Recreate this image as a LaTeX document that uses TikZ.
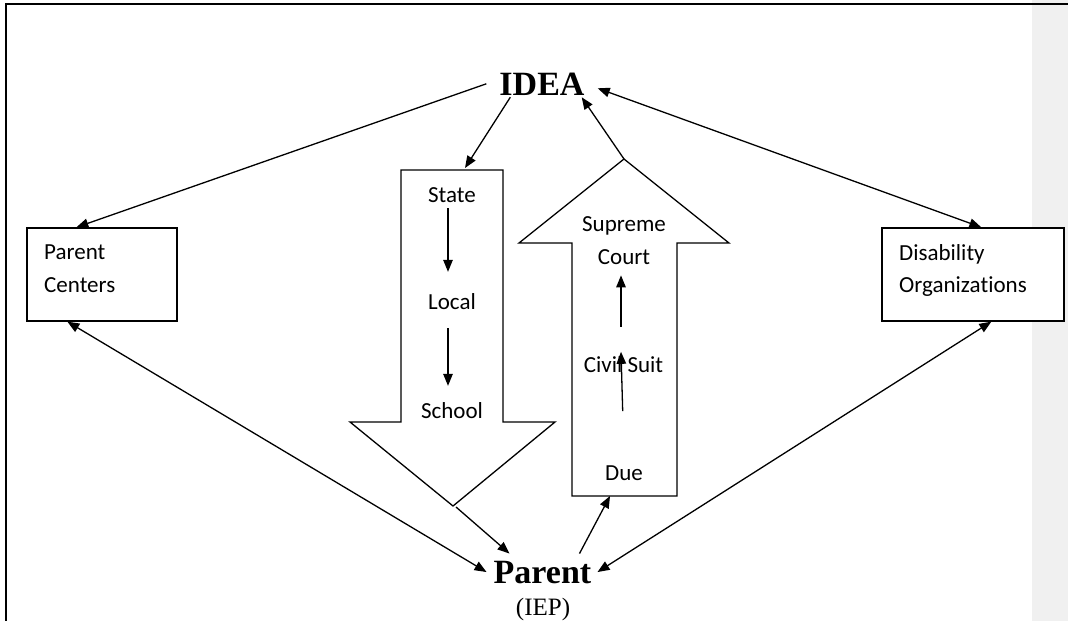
\documentclass[tikz,border=0pt]{standalone}
\usepackage{fontspec}
\setmainfont{Liberation Serif}
\newfontfamily\calfont[RawFeature={-liga;-clig;-dlig;-calt;-hlig}]{Carlito}
\usetikzlibrary{arrows.meta}
\begin{document}
\begin{tikzpicture}[x=1pt,y=-1pt,
  ln/.style={line width=1.3pt,black},
  arr/.style={ln,-{Triangle[length=12pt,width=9.5pt]}},
  darr/.style={ln,{Triangle[length=12pt,width=9.5pt]}-{Triangle[length=12pt,width=9.5pt]}},
  lbl/.style={font=\calfont\fontsize{23}{28}\selectfont,inner sep=0pt},
  big/.style={font=\bfseries\fontsize{34}{40}\selectfont,inner sep=0pt,anchor=base},
  boxst/.style={draw,ln,fill=white,minimum height=93pt,inner sep=0pt}]
\useasboundingbox (0,0) rectangle (1068,621);
% right grey margin
\fill[fill={rgb,255:red,240;green,240;blue,240}] (1032,0) rectangle (1068,621);
% page border
\draw[ln] (5,4) -- (1068,4);
\draw[ln] (6,4) -- (6,621);

% main labels
\node[big] (idea) at (542,95) {IDEA};
\node[big] (parent) at (542.5,583) {Parent};
\node[inner sep=0pt,anchor=base,font=\fontsize{25}{30}\selectfont] (iep) at (543,615) {(IEP)};

% side boxes
\node[boxst,minimum width=150pt] (pc) at (102,274.5) {};
\node[lbl,anchor=base west] (pc1) at (44,259) {Parent};
\node[lbl,anchor=base west] (pc2) at (44,292) {Centers};
\node[boxst,minimum width=182pt] (do) at (973,274.5) {};
\node[lbl,anchor=base west] (do1) at (899,260) {Disability};
\node[lbl,anchor=base west] (do2) at (899,292) {Organiza\kern0pt tions};

% down block arrow
\draw[ln,fill=white] (401,170) -- (503,170) -- (503,422) -- (555,422) -- (453,506) -- (350,422) -- (401,422) -- cycle;
\coordinate (dn) at (452,170);
\coordinate (dtip) at (453,506);
% up block arrow
\draw[ln,fill=white] (572,496) -- (572,243) -- (519,243) -- (624,159) -- (729,243) -- (677,243) -- (677,496) -- cycle;
\coordinate (upt) at (624,159);
\coordinate (ub) at (624,496);

% texts in block arrows
\node[lbl,anchor=base] (state) at (452,202) {State};
\node[lbl,anchor=base] (local) at (452,309) {Local};
\node[lbl,anchor=base] (school) at (452,418) {School};
\node[lbl,anchor=base] (sup) at (624,231) {Supreme};
\node[lbl,anchor=base] (court) at (624,264) {Court};
\node[lbl,anchor=base] (civil) at (623.5,372) {Civil Suit};
\node[lbl,anchor=base] (due) at (624,480) {Due};

% inner arrows
\draw[arr] ([xshift=-4pt,yshift=-6pt]state.south) -- ([xshift=-4pt,yshift=21pt]local.north);
\draw[arr] ([xshift=-4pt,yshift=-19pt]local.south) -- ([xshift=-4pt,yshift=16pt]school.north);
\draw[arr] ([xshift=-2.5pt,yshift=29pt]civil.north) -- ([xshift=-3pt,yshift=-11pt]court.south);
\draw[arr] ([xshift=-1.3pt,yshift=54pt]due.north) -- ([xshift=-2.5pt,yshift=4pt]civil.north);

% outer connectors
\draw[arr] ([xshift=-13pt]idea.west) -- ([xshift=50pt]pc.north west);
\draw[arr] ([xshift=11pt,yshift=-2pt]idea.south west) -- ([xshift=13pt,yshift=2pt]dn);
\draw[arr] (upt) -- ([xshift=-3pt,yshift=-2pt]idea.south east);
\draw[darr] ([xshift=13pt,yshift=-4.5pt]idea.east) -- ([xshift=100pt]do.north west);
\draw[darr] ([xshift=41pt]pc.south west) -- ([xshift=-7pt]parent.west);
\draw[arr] ([xshift=3pt,yshift=-1pt]dtip) -- ([xshift=16pt,yshift=7pt]parent.north west);
\draw[arr] ([xshift=-12pt,yshift=7pt]parent.north east) -- ([xshift=-14pt]ub);
\draw[darr] ([xshift=110pt]do.south west) -- ([xshift=6pt]parent.east);
\end{tikzpicture}
\end{document}
